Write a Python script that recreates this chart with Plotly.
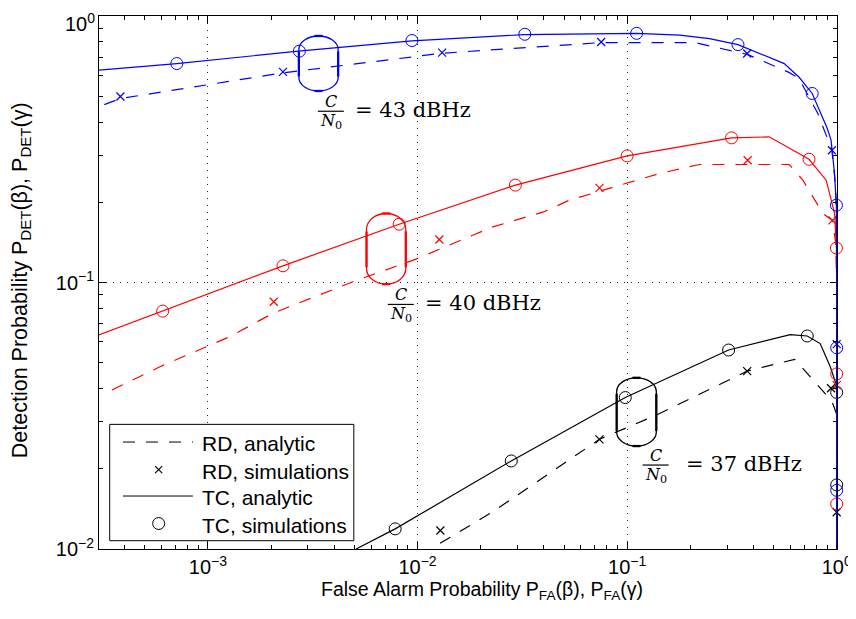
import plotly.graph_objects as go

# ---------------- data ----------------
# C/N0 = 43 dBHz (blue)
tc43_x = [3.0e-4, 7.1e-4, 2.7e-3, 9.4e-3, 0.0325, 0.111, 0.178, 0.247, 0.338, 0.562, 0.662, 0.764, 0.9, 0.94, 0.975, 0.997, 1.0, 1.0]
tc43_y = [0.626, 0.663, 0.738, 0.806, 0.852, 0.860, 0.847, 0.822, 0.781, 0.663, 0.589, 0.512, 0.38, 0.342, 0.26, 0.195, 0.12, 0.001]
tc43_sim_x = [7.1e-4, 2.73e-3, 9.4e-3, 0.0325, 0.111, 0.338, 0.764, 0.997, 1.0, 1.0]
tc43_sim_y = [0.663, 0.738, 0.809, 0.854, 0.861, 0.781, 0.512, 0.195, 0.0569, 0.0166]
rd43_x = [3.2e-4, 3.82e-4, 2.28e-3, 0.0131, 0.0752, 0.21, 0.374, 0.585, 0.66, 0.814, 0.949, 0.989, 1.0, 1.0]
rd43_y = [0.465, 0.49, 0.612, 0.725, 0.795, 0.795, 0.718, 0.617, 0.584, 0.43, 0.3135, 0.228, 0.15, 0.001]
rd43_sim_x = [3.82e-4, 2.28e-3, 0.0131, 0.0752, 0.374, 0.949, 1.0]
rd43_sim_y = [0.499, 0.617, 0.729, 0.799, 0.723, 0.3135, 0.0587]

# C/N0 = 40 dBHz (red)
tc40_x = [3.0e-4, 6.08e-4, 2.28e-3, 8.17e-3, 0.0293, 0.1, 0.315, 0.476, 0.738, 0.891, 0.977, 0.997, 1.0, 1.0]
tc40_y = [0.0635, 0.0781, 0.1155, 0.1655, 0.232, 0.2985, 0.349, 0.352, 0.290, 0.242, 0.1816, 0.1346, 0.09, 0.001]
tc40_sim_x = [6.08e-4, 2.28e-3, 8.17e-3, 0.0293, 0.1, 0.315, 0.738, 0.997, 1.0, 1.0]
tc40_sim_y = [0.0781, 0.1155, 0.1655, 0.232, 0.2985, 0.349, 0.290, 0.1346, 0.0454, 0.01476]
rd40_x = [3.48e-4, 5.9e-4, 1.27e-3, 2.05e-3, 5.13e-3, 9.55e-3, 0.02285, 0.0399, 0.0531, 0.1427, 0.2213, 0.5935, 0.69, 0.859, 0.955, 0.99, 1.0, 1.0]
rd40_y = [0.0395, 0.0483, 0.0626, 0.0768, 0.102, 0.1213, 0.1617, 0.184, 0.2037, 0.2565, 0.2772, 0.2772, 0.242, 0.1816, 0.171, 0.14, 0.1, 0.001]
rd40_sim_x = [2.06e-3, 0.0127, 0.0738, 0.376, 0.955, 1.0]
rd40_sim_y = [0.0847, 0.145, 0.2265, 0.2875, 0.171, 0.0412]

# C/N0 = 37 dBHz (black)
tc37_x = [5.09e-3, 7.82e-3, 0.028, 0.098, 0.305, 0.6, 0.7236, 0.834, 0.932, 0.984, 1.0, 1.0]
tc37_y = [0.0100, 0.0119, 0.0214, 0.037, 0.0558, 0.0637, 0.063, 0.059, 0.0483, 0.0425, 0.039, 0.001]
tc37_sim_x = [7.82e-3, 0.028, 0.098, 0.305, 0.7236, 1.0, 1.0]
tc37_sim_y = [0.0119, 0.0214, 0.037, 0.0558, 0.063, 0.0387, 0.0174]
rd37_x = [0.0128, 0.0229, 0.0738, 0.1377, 0.374, 0.63, 0.908, 0.96, 1.0, 1.0]
rd37_y = [0.0105, 0.0138, 0.0258, 0.0318, 0.0465, 0.0515, 0.0373, 0.035, 0.032, 0.001]
rd37_sim_x = [0.01285, 0.0738, 0.374, 0.94, 1.0]
rd37_sim_y = [0.01173, 0.0258, 0.0465, 0.0401, 0.01374]

x_tickvals = [1e-3, 1e-2, 1e-1, 1]
x_ticktext = ["10<sup>\u22123</sup>", "10<sup>\u22122</sup>", "10<sup>\u22121</sup>", "10<sup>0</sup>"]
y_tickvals = [1e-2, 1e-1, 1]
y_ticktext = ["10<sup>\u22122</sup>", "10<sup>\u22121</sup>", "10<sup>0</sup>"]

legend_labels = ["RD, analytic", "RD, simulations", "TC, analytic", "TC, simulations"]
snr_labels = ["43", "40", "37"]
x_title = "False Alarm Probability P<sub>FA</sub>(\u03b2), P<sub>FA</sub>(\u03b3)"
y_title = "Detection Probability P<sub>DET</sub>(\u03b2), P<sub>DET</sub>(\u03b3)"

BLUE, RED, BLACK = "#0000ff", "#ff0000", "#000000"
DASH = "12px,11px"

# ---------------- figure ----------------
fig = go.Figure()

series = [
    (tc37_x, tc37_y, tc37_sim_x, tc37_sim_y, rd37_x, rd37_y, rd37_sim_x, rd37_sim_y, BLACK),
    (tc40_x, tc40_y, tc40_sim_x, tc40_sim_y, rd40_x, rd40_y, rd40_sim_x, rd40_sim_y, RED),
    (tc43_x, tc43_y, tc43_sim_x, tc43_sim_y, rd43_x, rd43_y, rd43_sim_x, rd43_sim_y, BLUE),
]
for tx, ty, tsx, tsy, rx, ry, rsx, rsy, col in series:
    fig.add_trace(go.Scatter(x=rx, y=ry, mode="lines", line=dict(color=col, width=1.2, dash=DASH), showlegend=False))
    fig.add_trace(go.Scatter(x=tx, y=ty, mode="lines", line=dict(color=col, width=1.2), showlegend=False))
    fig.add_trace(go.Scatter(x=rsx, y=rsy, mode="markers", cliponaxis=False, showlegend=False,
                             marker=dict(symbol="x-thin-open", size=8, color=col, line=dict(color=col, width=1.2))))
    fig.add_trace(go.Scatter(x=tsx, y=tsy, mode="markers", cliponaxis=False, showlegend=False,
                             marker=dict(symbol="circle-open", size=12, color=col, line=dict(color=col, width=1))))

# ---------------- layout geometry (screen pixels -> paper) ----------------
OFF = 8  # page body margin
W_FIG, H_FIG = 856 - OFF, 619 - OFF
PLOT_L, PLOT_R, PLOT_T, PLOT_B = 99, 837.5, 15.7, 549  # plot area on screen
L = PLOT_L - OFF
T = PLOT_T - OFF
R = W_FIG - (PLOT_R - OFF)
B = H_FIG - (PLOT_B - OFF)
PW, PH = PLOT_R - PLOT_L, PLOT_B - PLOT_T


def px(x):
    return (x - PLOT_L) / PW


def py(y):
    return (PLOT_B - y) / PH


def pt(x, y):
    return f"{px(x):.5f},{py(y):.5f}"


shapes = []
annotations = []


def stadium(x0, x1, ytop, ybot, ry, col):
    rx = (x1 - x0) / 2
    cx = (x0 + x1) / 2
    k = 0.5523
    s0, s1 = ytop + ry, ybot - ry
    path = (f"M{pt(x0, s0)} C{pt(x0, s0 - k*ry)} {pt(cx - k*rx, ytop)} {pt(cx, ytop)} "
            f"C{pt(cx + k*rx, ytop)} {pt(x1, s0 - k*ry)} {pt(x1, s0)} L{pt(x1, s1)} "
            f"C{pt(x1, s1 + k*ry)} {pt(cx + k*rx, ybot)} {pt(cx, ybot)} "
            f"C{pt(cx - k*rx, ybot)} {pt(x0, s1 + k*ry)} {pt(x0, s1)} Z")
    shapes.append(dict(type="path", xref="paper", yref="paper", path=path,
                       line=dict(color=col, width=1.3)))
    for xx in (x0, x1):
        shapes.append(dict(type="line", xref="paper", yref="paper", x0=px(xx), x1=px(xx),
                           y0=py(s0 + 2), y1=py(s1 - 1), line=dict(color=col, width=2.3)))
    for yy in (ytop, ybot):
        shapes.append(dict(type="line", xref="paper", yref="paper", x0=px(cx - 4), x1=px(cx + 4),
                           y0=py(yy), y1=py(yy), line=dict(color=col, width=2.3)))


def snr_label(xc, ybar, xtext, label):
    mfont = dict(family="DejaVu Serif", size=16, color="black")
    annotations.append(dict(xref="paper", yref="paper", x=px(xc), y=py(ybar - 10), text="<i>C</i>",
                            showarrow=False, font=mfont, xanchor="center", yanchor="middle"))
    annotations.append(dict(xref="paper", yref="paper", x=px(xc), y=py(ybar + 10.5), text="<i>N</i><sub>0</sub>",
                            showarrow=False, font=mfont, xanchor="center", yanchor="middle"))
    shapes.append(dict(type="line", xref="paper", yref="paper", x0=px(xc - 13), x1=px(xc + 13),
                       y0=py(ybar), y1=py(ybar), line=dict(color="black", width=1.2)))
    annotations.append(dict(xref="paper", yref="paper", x=px(xtext), y=py(ybar - 1), text=f"= {label} dBHz",
                            showarrow=False, font=dict(family="DejaVu Serif", size=21, color="black"),
                            xanchor="left", yanchor="middle"))


stadium(299, 338.3, 35.7, 90.7, 13.5, BLUE)
stadium(366.7, 406, 213.3, 284, 16, RED)
stadium(617, 656.7, 377.7, 446, 14, BLACK)

snr_label(331, 111, 353, snr_labels[0])
snr_label(401, 304.3, 423, snr_labels[1])
snr_label(656, 465, 684, snr_labels[2])

# ---------------- manual legend ----------------
shapes.append(dict(type="rect", xref="paper", yref="paper", x0=px(109.7), x1=px(354), y0=py(540.7), y1=py(424.3),
                   line=dict(color="black", width=1), fillcolor="white", layer="above"))
rows = [442, 469.5, 496, 523.5]
shapes.append(dict(type="line", xref="paper", yref="paper", x0=px(123), x1=px(193), y0=py(rows[0]), y1=py(rows[0]),
                   line=dict(color="black", width=1, dash=DASH)))
mx = 158.7
for d in (1, -1):
    shapes.append(dict(type="line", xref="paper", yref="paper", x0=px(mx - 3.5), x1=px(mx + 3.5),
                       y0=py(rows[1] - 3.5 * d), y1=py(rows[1] + 3.5 * d), line=dict(color="black", width=1.1)))
shapes.append(dict(type="line", xref="paper", yref="paper", x0=px(123), x1=px(193), y0=py(rows[2]), y1=py(rows[2]),
                   line=dict(color="black", width=1)))
shapes.append(dict(type="circle", xref="paper", yref="paper", x0=px(mx - 6), x1=px(mx + 6),
                   y0=py(rows[3] + 6), y1=py(rows[3] - 6), line=dict(color="black", width=1)))
for lab, yy in zip(legend_labels, rows):
    annotations.append(dict(xref="paper", yref="paper", x=px(200.5), y=py(yy + 1.5), text=lab, showarrow=False,
                            xanchor="left", yanchor="middle",
                            font=dict(family="Liberation Sans", size=21, color="black")))

# axis titles as annotations for precise placement
annotations.append(dict(xref="paper", yref="paper", x=px(482), y=py(591), text=x_title, showarrow=False,
                        xanchor="center", yanchor="middle", font=dict(family="Liberation Sans", size=19.5, color="black")))
annotations.append(dict(xref="paper", yref="paper", x=px(21), y=py(280), text=y_title, showarrow=False, textangle=-90,
                        xanchor="center", yanchor="middle", font=dict(family="Liberation Sans", size=21.5, color="black")))

# top y tick label drawn as annotation so it is not cut by the page edge
y_ticktext_axis = y_ticktext[:-1] + [""]
annotations.append(dict(xref="paper", yref="paper", x=px(96), y=py(8.5), text=y_ticktext[-1], showarrow=False,
                        xanchor="right", yanchor="top", borderpad=0,
                        font=dict(family="Liberation Sans", size=20, color="black")))

axis_common = dict(
    type="log", showline=True, linecolor="black", linewidth=1, mirror="allticks",
    ticks="inside", ticklen=7, tickcolor="black", tickwidth=1, automargin=False,
    ticklabeloverflow="allow",
    showgrid=True, gridcolor="#222222", gridwidth=1, griddash="1px,6px",
    zeroline=False, tickfont=dict(family="Liberation Sans", size=20, color="black"),
    minor=dict(ticks="inside", ticklen=4, tickcolor="black", dtick="D1", showgrid=False),
)

fig.update_layout(
    width=W_FIG, height=H_FIG,
    margin=dict(l=L, r=R, t=T, b=B, pad=0, autoexpand=False),
    paper_bgcolor="white", plot_bgcolor="white",
    showlegend=False,
    shapes=shapes, annotations=annotations,
    xaxis=dict(axis_common, range=[-3.52, 0.0015], tickvals=x_tickvals, ticktext=x_ticktext),
    yaxis=dict(axis_common, range=[-2, 0], tickvals=y_tickvals, ticktext=y_ticktext_axis),
)

fig.write_html("out.html")
